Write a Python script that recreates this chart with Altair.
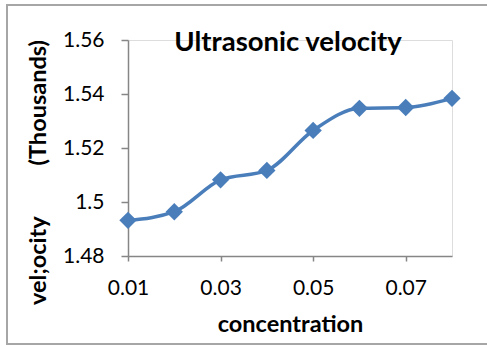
import altair as alt
import pandas as pd

concentration = [0.01, 0.02, 0.03, 0.04, 0.05, 0.06, 0.07, 0.08]
velocity = [1.4932, 1.4964, 1.5082, 1.5117, 1.5265, 1.5347, 1.5350, 1.5384]
x_ticks = [0.01, 0.03, 0.05, 0.07]
y_ticks = [1.48, 1.50, 1.52, 1.54, 1.56]
chart_title = ["Ultrasonic velocity"]

df = pd.DataFrame({"concentration": concentration, "velocity": velocity})

FONT = "Lato"
BLUE = "#4a7ebb"
GRAY = "#868686"
nb = "\u00a0"

x = alt.X(
    "concentration:Q",
    scale=alt.Scale(domain=[0.01, 0.08], nice=False, zero=False),
    axis=alt.Axis(
        values=x_ticks, format=".2f", title="concentration",
        grid=False, domainColor=GRAY, domainWidth=1.5, tickColor=GRAY,
        tickWidth=1.5, tickSize=5, labelFontSize=21, labelPadding=16,
        labelFlush=False, labelOverlap=False,
        labelFont=FONT, labelColor="black", titleFont=FONT, titleFontSize=23.5,
        titleFontWeight="bold", titleColor="black", titlePadding=14,
    ),
)
y = alt.Y(
    "velocity:Q",
    scale=alt.Scale(domain=[1.48, 1.56], nice=False, zero=False),
    axis=alt.Axis(
        values=y_ticks, labelExpr="format(datum.value, '.2~f')",
        title="vel;ocity" + nb * 9 + "(Thousands)",
        grid=False, domainColor=GRAY, domainWidth=1.5, tickColor=GRAY,
        tickWidth=1.5, tickSize=7, labelFontSize=21, labelPadding=17,
        labelFlush=False, labelOverlap=False,
        labelFont=FONT, labelColor="black", titleFont=FONT, titleFontSize=23.5,
        titleFontWeight="bold", titleColor="black",
        titleX=-90, titleY=132, titleAngle=270, titleAlign="center",
        titleBaseline="middle",
    ),
)

base = alt.Chart(df)
line = base.mark_line(color=BLUE, strokeWidth=3.5, interpolate="monotone").encode(x=x, y=y)
points = base.mark_point(shape="diamond", filled=True, color=BLUE, size=300, opacity=1).encode(x=x, y=y)

border = alt.Chart(pd.DataFrame({"a": [0]})).mark_rect(
    fill=None, stroke="#a6a6a6", strokeWidth=2
).encode(
    x=alt.value(-121), x2=alt.value(380), y=alt.value(-35), y2=alt.value(304)
)

title = alt.Chart(pd.DataFrame({"t": chart_title})).mark_text(
    font=FONT, fontSize=27.5, fontWeight="bold", color="black",
    align="center", baseline="alphabetic"
).encode(text="t:N", x=alt.value(160), y=alt.value(11))

chart = alt.layer(border, line, points, title).properties(
    width=324, height=216,
    autosize=alt.AutoSizeParams(type="none"),
    padding={"left": 128, "top": 40, "right": 35, "bottom": 90},
).configure_view(stroke=None).configure(background="white")

chart.save("out.html", embed_options={"renderer": "svg", "actions": False})
